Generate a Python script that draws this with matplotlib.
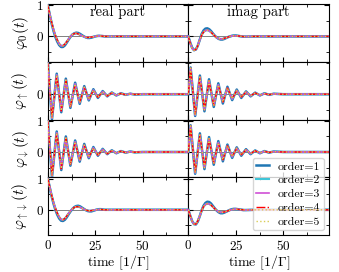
import matplotlib
matplotlib.use("Agg")
import matplotlib.pyplot as plt
from matplotlib.ticker import MultipleLocator

plt.rcParams['font.family'] = 'cmr10'
plt.rcParams['mathtext.fontset'] = 'cm'
plt.rcParams['axes.formatter.use_mathtext'] = True
plt.rcParams['font.size'] = 9

# time grids [1/Gamma]
t_slow = list(range(31)) + [35, 40, 74]
t_up_re = [0, 2.2, 4.7, 7.1, 9.5, 11.9, 14.4, 16.8, 19.2, 21.6, 24.0, 26.4, 28.9,
           31.3, 33.7, 36.1, 38.5, 41.0, 43.4, 45.8, 50, 74]
t_up_im = [0, 1.2, 3.6, 6.1, 8.5, 10.9, 13.4, 15.8, 18.2, 20.6, 23.1, 25.5, 27.9,
           30.4, 32.8, 35.2, 37.7, 40.1, 42.5, 45.0, 50, 74]

# phi_0 : order 1 and orders 2..5 (indistinguishable in the figure)
phi0_re_o1 = [1.0, 0.70, 0.42, 0.18, -0.02, -0.17, -0.28, -0.34, -0.34, -0.29, -0.20,
              -0.10, -0.01, 0.06, 0.10, 0.12, 0.11, 0.08, 0.04, 0.0, -0.03, -0.05,
              -0.05, -0.04, -0.02, 0.0, 0.015, 0.02, 0.015, 0.01, 0.0, 0.0, 0.0, 0.0]
phi0_re = [1.0, 0.72, 0.45, 0.22, 0.03, -0.12, -0.24, -0.30, -0.30, -0.25, -0.17,
           -0.08, 0.0, 0.06, 0.09, 0.10, 0.08, 0.05, 0.02, -0.01, -0.03, -0.035,
           -0.03, -0.02, -0.01, 0.0, 0.01, 0.012, 0.01, 0.005, 0.0, 0.0, 0.0, 0.0]
phi0_im_o1 = [0.0, -0.20, -0.36, -0.44, -0.42, -0.30, -0.11, 0.07, 0.19, 0.25, 0.26,
              0.23, 0.17, 0.09, 0.02, -0.04, -0.08, -0.10, -0.10, -0.08, -0.05, -0.02,
              0.0, 0.02, 0.03, 0.03, 0.02, 0.01, 0.0, -0.01, -0.01, 0.0, 0.0, 0.0]
phi0_im = [0.0, -0.22, -0.38, -0.45, -0.42, -0.30, -0.12, 0.04, 0.14, 0.19, 0.20,
           0.18, 0.13, 0.07, 0.01, -0.04, -0.07, -0.08, -0.08, -0.06, -0.04, -0.02,
           0.0, 0.015, 0.02, 0.02, 0.015, 0.01, 0.0, -0.005, -0.005, 0.0, 0.0, 0.0]

# phi_up (extrema)
up_re_o1 = [1.0, -0.80, 0.66, -0.58, 0.50, -0.44, 0.37, -0.31, 0.26, -0.20, 0.16,
            -0.12, 0.10, -0.07, 0.055, -0.04, 0.03, -0.02, 0.015, -0.01, 0.0, 0.0]
up_re = [1.0, -0.77, 0.62, -0.54, 0.45, -0.40, 0.33, -0.27, 0.22, -0.17, 0.13,
         -0.10, 0.08, -0.06, 0.045, -0.035, 0.025, -0.018, 0.012, -0.008, 0.0, 0.0]
up_im_o1 = [0.0, 0.86, -0.70, 0.60, -0.55, 0.48, -0.41, 0.35, -0.30, 0.24, -0.19,
            0.15, -0.12, 0.09, -0.07, 0.05, -0.04, 0.03, -0.02, 0.015, 0.0, 0.0]
up_im = [0.0, 0.84, -0.67, 0.55, -0.50, 0.43, -0.36, 0.30, -0.25, 0.20, -0.15,
         0.12, -0.09, 0.07, -0.05, 0.04, -0.03, 0.02, -0.015, 0.01, 0.0, 0.0]

# phi_down looks the same as phi_up
dn_re_o1 = list(up_re_o1)
dn_re = list(up_re)
dn_im_o1 = list(up_im_o1)
dn_im = list(up_im)

# phi_updown
ud_re_o1 = [1.0, 0.72, 0.44, 0.20, 0.0, -0.16, -0.28, -0.35, -0.36, -0.32, -0.24,
            -0.14, -0.05, 0.03, 0.09, 0.12, 0.13, 0.11, 0.07, 0.03, -0.01, -0.04,
            -0.05, -0.05, -0.03, -0.01, 0.01, 0.02, 0.02, 0.01, 0.0, 0.0, 0.0, 0.0]
ud_re = [1.0, 0.74, 0.47, 0.24, 0.05, -0.11, -0.23, -0.31, -0.32, -0.28, -0.20,
         -0.11, -0.03, 0.03, 0.08, 0.10, 0.10, 0.08, 0.05, 0.02, -0.01, -0.025,
         -0.03, -0.025, -0.015, -0.005, 0.005, 0.01, 0.01, 0.005, 0.0, 0.0, 0.0, 0.0]
ud_im_o1 = [0.0, -0.19, -0.36, -0.46, -0.47, -0.38, -0.21, -0.02, 0.13, 0.22, 0.26,
            0.25, 0.20, 0.12, 0.04, -0.03, -0.08, -0.11, -0.11, -0.09, -0.06, -0.03,
            0.0, 0.02, 0.03, 0.03, 0.02, 0.01, 0.0, -0.01, -0.01, 0.0, 0.0, 0.0]
ud_im = [0.0, -0.20, -0.37, -0.46, -0.46, -0.36, -0.20, -0.03, 0.10, 0.17, 0.20,
         0.19, 0.15, 0.09, 0.03, -0.02, -0.06, -0.08, -0.08, -0.07, -0.05, -0.03,
         -0.01, 0.005, 0.015, 0.02, 0.015, 0.01, 0.005, 0.0, -0.005, 0.0, 0.0, 0.0]

ylabels = [r'$\varphi_0(t)$', r'$\varphi_\uparrow(t)$', r'$\varphi_\downarrow(t)$',
           r'$\varphi_{\uparrow\downarrow}(t)$']
orders = [1, 2, 3, 4, 5]
colors = ['#1f77b4', '#3fc5d8', '#cf4fd6', 'red', '#d9cc55']
styles = ['-', '-', '-', '-.', ':']
widths = [1.8, 1.5, 1.2, 1.0, 1.0]

# (t_re, re order1, re higher, t_im, im order1, im higher) per row
rows = [
    (t_slow, phi0_re_o1, phi0_re, t_slow, phi0_im_o1, phi0_im),
    (t_up_re, up_re_o1, up_re, t_up_im, up_im_o1, up_im),
    (t_up_re, dn_re_o1, dn_re, t_up_im, dn_im_o1, dn_im),
    (t_slow, ud_re_o1, ud_re, t_slow, ud_im_o1, ud_im),
]

fig, axes = plt.subplots(4, 2, sharex=True, figsize=(3.39, 2.72), dpi=100)
fig.subplots_adjust(left=0.141, right=0.970, top=0.985, bottom=0.135,
                    hspace=0, wspace=0)

for i, (t_re, re1, re_hi, t_im, im1, im_hi) in enumerate(rows):
    for j in range(2):
        ax = axes[i, j]
        ax.axhline(0, color='gray', lw=0.7, zorder=1)
        t = t_re if j == 0 else t_im
        for k, order in enumerate(orders):
            if j == 0:
                y = re1 if order == 1 else re_hi
            else:
                y = im1 if order == 1 else im_hi
            ax.plot(t, y, color=colors[k], ls=styles[k], lw=widths[k],
                    label='order=' + str(order), zorder=2 + k)
        ax.set_xlim(0, 74)
        ax.set_ylim(-0.82, 1.04)
        ax.xaxis.set_major_locator(MultipleLocator(25))
        ax.xaxis.set_minor_locator(MultipleLocator(12.5))
        if i == 1:
            ax.set_yticks([0])
        else:
            ax.yaxis.set_major_locator(MultipleLocator(1))
        ax.yaxis.set_minor_locator(MultipleLocator(0.5))
        ax.tick_params(which='both', direction='in', top=True, right=True,
                       labelsize=9.5, pad=3)
        if j == 1:
            ax.tick_params(labelleft=False)
        else:
            ax.set_ylabel(ylabels[i], fontsize=11, labelpad=3)
        if i == 3:
            ax.set_xlabel(r'time [$1/\Gamma$]', fontsize=10, labelpad=0)

axes[0, 0].text(0.5, 0.985, 'real part', transform=axes[0, 0].transAxes,
                ha='center', va='top', fontsize=10.5)
axes[0, 1].text(0.5, 0.985, 'imag part', transform=axes[0, 1].transAxes,
                ha='center', va='top', fontsize=10.5)

axes[3, 1].legend(loc='lower right', bbox_to_anchor=(0.964, 0.086),
                  borderaxespad=0, fontsize=8.5, labelspacing=0.3,
                  handlelength=1.1, handletextpad=0.7, borderpad=0.3)

fig.align_ylabels(axes[:, 0])
plt.savefig('out.png', dpi=100)
